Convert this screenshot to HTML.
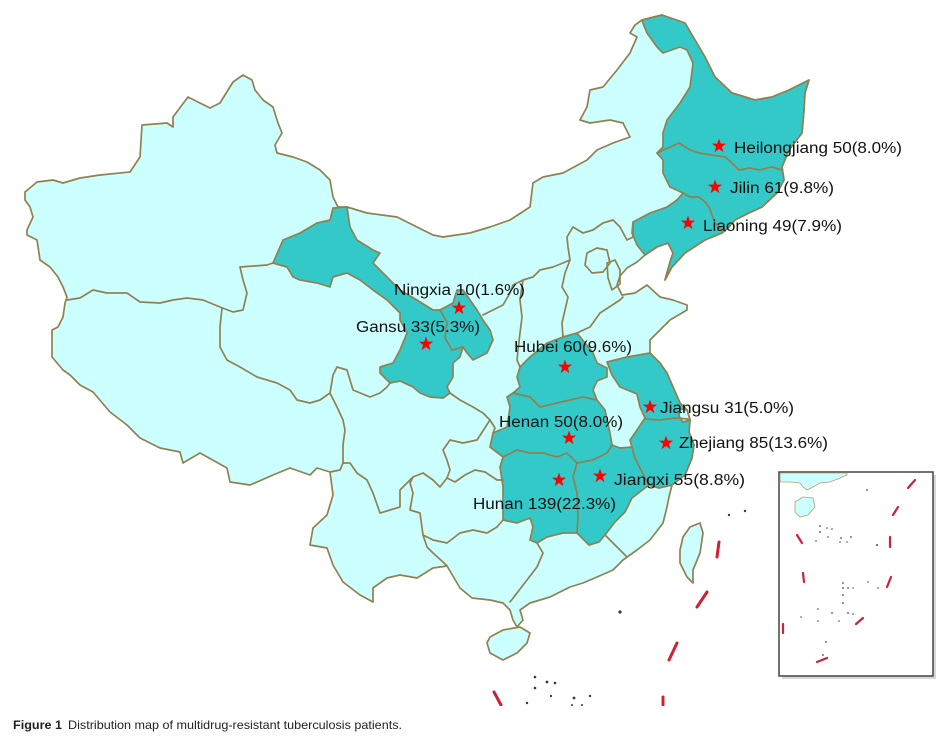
<!DOCTYPE html>
<html>
<head>
<meta charset="utf-8">
<style>
html,body{margin:0;padding:0;background:#fff;}
svg{display:block;}
.lbl{font-family:"Liberation Sans",Arial,sans-serif;font-size:15.5px;fill:#111;}
.cap{font-family:"Liberation Sans",Arial,sans-serif;font-size:12px;fill:#222;}
</style>
</head>
<body>
<svg width="944" height="755" viewBox="0 0 944 755" xmlns="http://www.w3.org/2000/svg">
<defs>
<polygon id="star" points="0,-7.5 1.76,-2.43 7.13,-2.32 2.85,0.93 4.41,6.07 0,3 -4.41,6.07 -2.85,0.93 -7.13,-2.32 -1.76,-2.43" fill="#ff0000"/>
</defs>
<rect width="944" height="755" fill="#fff"/>

<g stroke="#918050" stroke-width="1.7" stroke-linejoin="round" stroke-linecap="round">
<!-- China mainland -->
<path fill="#ccffff" d="M25,192 L37,182 53,180 63,183 80,178 100,175 130,172 140,157 142,125 167,123 173,127 173,117 188,97 200,103 210,108 220,103 233,82 243,75 252,80 255,90 263,100 273,107 278,123 282,133 275,145 277,153 293,157 307,162 320,170 330,180 333,197 338,207 347,207 367,213 397,217 417,227 433,235 443,237 470,233 490,227 510,220 530,207 533,183 543,177 563,173 587,160 597,150 613,143 630,137 623,123 610,120 590,123 580,120 587,107 590,90 603,87 617,70 630,53 637,37 630,33 635,25 642,20 662,15 685,23 695,40 705,57 715,77 732,93 755,100 772,97 789,90 809,80 805,93 804,110 802,133 789,150 782,167 784,180 777,193 762,207 749,213 735,220 729,227 722,233 705,240 685,253 672,267 665,280 670,262 673,253 668,243 657,247 645,255 637,262 627,268 620,276 617,285 622,295 635,293 647,285 660,297 673,300 687,305 687,310 670,320 660,330 650,340 650,353 660,363 667,373 673,387 680,403 687,410 690,420 689,432 694,445 692,458 685,475 672,485 669,497 667,507 663,523 650,540 637,550 623,560 613,570 597,577 583,583 570,587 550,597 530,603 520,610 523,620 517,627 513,620 510,610 503,603 490,600 472,598 460,588 447,566 433,568 417,578 400,575 387,578 373,588 373,602 360,595 343,582 333,565 327,548 310,545 313,528 327,515 333,495 330,472 317,468 310,475 290,468 273,475 250,485 230,482 227,468 200,453 183,463 180,452 160,448 140,438 127,425 110,412 93,392 80,385 70,375 63,370 52,357 52,330 58,327 63,317 65,303 67,297 63,287 58,277 50,267 40,260 37,240 27,235 27,230 33,217 30,207 25,200 Z"/>

<!-- Hainan -->
<path fill="#ccffff" d="M490,637 L503,630 520,627 530,633 527,643 517,653 503,660 490,653 487,643 Z"/>
<!-- Taiwan -->
<path fill="#ccffff" d="M690,527 L700,523 703,533 700,553 693,570 693,583 687,577 680,563 680,550 683,537 Z"/>

<!-- NE dark: Heilongjiang, Jilin, Liaoning -->
<path fill="#33c9c9" d="M642,20 L662,15 685,23 695,40 705,57 715,77 732,93 755,100 772,97 789,90 809,80 805,93 804,110 802,133 789,150 782,167 784,180 777,193 762,207 749,213 735,220 729,227 722,233 705,240 685,253 672,267 665,280 670,262 673,253 668,243 657,247 645,255 637,245 632,233 633,222 650,213 667,207 677,200 683,193 670,187 663,173 663,160 657,153 663,147 663,133 667,120 680,103 690,87 693,63 687,50 680,47 663,53 657,47 647,33 643,23 Z"/>

<!-- NW dark: Gansu + Ningxia -->
<path fill="#33c9c9" d="M333,208 L347,207 350,227 357,240 373,250 380,253 373,263 387,277 400,290 417,300 433,310 440,310 453,303 457,290 463,290 470,300 477,310 483,320 490,330 493,340 487,353 473,360 467,353 463,347 460,357 453,363 453,377 447,387 450,393 443,398 430,397 420,393 413,387 400,381 390,383 380,373 380,367 393,363 400,350 407,333 400,320 400,313 387,300 373,290 360,280 347,273 333,277 330,287 317,283 300,280 293,277 287,267 273,263 283,240 300,233 317,223 330,220 Z"/>

<!-- Central dark: Henan, Hubei, Hunan, Jiangxi -->
<path fill="#33c9c9" d="M563,337 L577,333 585,343 593,353 597,363 607,368 607,377 597,381 593,390 597,400 605,410 610,433 612,445 620,448 632,447 635,458 642,472 649,485 645,488 632,498 625,512 615,522 605,535 599,542 589,545 582,538 577,533 563,533 547,537 537,543 530,540 533,527 530,518 517,523 503,520 503,487 500,467 503,457 490,447 493,433 507,427 510,407 507,397 513,393 520,387 517,377 520,367 530,357 547,343 Z"/>

<!-- East dark: Jiangsu + Zhejiang -->
<path fill="#33c9c9" d="M607,362 L627,357 650,353 660,363 667,373 673,387 680,403 687,410 690,420 689,432 694,445 692,458 685,475 672,485 659,488 649,485 642,472 635,458 632,447 630,440 637,430 645,418 640,407 637,394 620,387 612,375 Z"/>
<!-- Shanghai -->
<path fill="#ccffff" d="M680,409 L687,410 690,420 683,422 679,416 Z"/>

<g fill="none">
<!-- NE internal -->
<polyline points="657,153 668,148 679,143 690,150 699,153 712,155 725,157 732,163 739,170 750,168 759,170 772,167 782,170"/>
<polyline points="683,193 690,197 699,197 705,202 709,207 712,215 715,223 720,228 725,231"/>
<!-- Ningxia/Gansu -->
<polyline points="440,310 447,322 445,338 452,350 463,347"/>
<!-- Central internal -->
<polyline points="513,393 530,397 540,407 557,403 570,400 583,397 597,400"/>
<polyline points="490,447 503,457 517,450 530,453 543,453 557,457 567,453 577,463 593,460 607,453 612,445"/>
<polyline points="577,463 573,477 577,493 578,517 577,533"/>
<!-- Jiangsu/Zhejiang -->
<polyline points="645,419 660,420 675,418 688,419"/>
<!-- Xinjiang / Tibet / Qinghai -->
<polyline points="67,300 80,298 93,290 107,293 127,293 140,302 160,303 173,300 187,298 203,300 220,307 233,312 243,310 247,293 243,280 240,267 267,265 273,263"/>
<polyline points="222,308 220,327 220,347 227,360 240,367 257,377 277,383 290,390 297,400 310,403 320,400 330,393 333,375 337,367 347,370 350,380 353,390 370,397 380,393 387,387 390,383"/>
<polyline points="330,393 337,407 343,420 345,430 343,445 343,463 340,470 330,472"/>
<!-- Sichuan / Yunnan / Guizhou / Chongqing -->
<polyline points="343,463 350,463 357,473 367,480 373,493 380,513 390,510 400,507 400,490 407,483 413,477 423,473 433,480 440,487 447,478"/>
<polyline points="413,477 410,483 413,493 410,510 420,513 423,535 433,540 447,543 460,533 473,530 487,533 497,527 503,520"/>
<polyline points="423,535 427,547 433,553 443,562 447,566"/>
<polyline points="450,393 460,400 473,407 483,413 490,420 495,428 493,433"/>
<polyline points="490,420 477,440 463,443 450,440 443,450 447,460 450,470 447,478 455,482 465,475 475,470 485,472 497,480 503,480"/>
<!-- Guangxi/Guangdong, Guangdong/Fujian -->
<polyline points="537,543 543,553 537,567 527,580 517,593 510,602"/>
<polyline points="605,535 615,545 627,557"/>
<!-- North: Shaanxi, Shanxi, Hebei, IM -->
<polyline points="483,315 493,310 503,305 510,293 513,285 523,280 533,277 540,270 553,267 563,263 570,260 568,247 567,237 573,227 583,233 593,230 603,223 613,220 620,227 627,240 633,237 633,225"/>
<polyline points="523,280 520,300 522,317 520,333 518,350 517,360 520,367"/>
<polyline points="570,260 565,273 562,287 568,297 565,310 562,323 563,337"/>
<polyline points="577,333 590,327 600,313 620,300 623,297"/>
<!-- Beijing / Tianjin -->
<path d="M587,253 L597,248 607,250 610,263 603,272 592,273 585,265 Z"/>
<path d="M607,263 L615,260 620,270 620,284 612,290 608,278 Z"/>
</g>
</g>

<!-- Main map dashes -->
<g stroke="#cc2233" stroke-width="3" stroke-linecap="round" fill="none">
<line x1="719" y1="542" x2="717" y2="557"/>
<line x1="707" y1="592" x2="697" y2="607"/>
<line x1="677" y1="643" x2="669" y2="660"/>
<line x1="663" y1="697" x2="663" y2="705"/>
<line x1="494" y1="692" x2="501" y2="705"/>
</g>
<g fill="#333366">
<circle cx="620" cy="612" r="1.6"/>
<circle cx="729" cy="515" r="1.2"/>
<circle cx="745" cy="511" r="1.2"/>
<circle cx="535" cy="677" r="1.3"/>
<circle cx="547" cy="682" r="1.4"/>
<circle cx="555" cy="683" r="1.3"/>
<circle cx="535" cy="688" r="1.3"/>
<circle cx="551" cy="696" r="1.1"/>
<circle cx="574" cy="698" r="1.4"/>
<circle cx="590" cy="696" r="1.2"/>
<circle cx="527" cy="703" r="1.2"/>
<circle cx="572" cy="705" r="1"/>
<circle cx="582" cy="705" r="1"/>
</g>
<!-- white cut below map -->
<rect x="0" y="706" width="944" height="12" fill="#fff"/>

<!-- Inset -->
<rect x="782" y="475" width="154" height="204" fill="#c8c8c8" opacity="0.7"/>
<rect x="779" y="472" width="154" height="204" fill="#fff" stroke="#444" stroke-width="1.5"/>
<path d="M780,473 L847,473 847,475 840,478 830,482 820,483 813,487 807,490 803,487 800,483 790,482 780,482 Z" fill="#ccffff" stroke="#b0a070" stroke-width="0.8"/>
<path d="M795,502 L803,497 813,498 815,507 808,515 800,517 795,512 Z" fill="#ccffff" stroke="#b0a070" stroke-width="0.8"/>
<g stroke="#cc2233" stroke-width="2.2" stroke-linecap="round" fill="none">
<line x1="908" y1="488" x2="915" y2="480"/>
<line x1="893" y1="515" x2="898" y2="507"/>
<line x1="890" y1="537" x2="890" y2="547"/>
<line x1="887" y1="587" x2="891" y2="577"/>
<line x1="856" y1="624" x2="863" y2="618"/>
<line x1="817" y1="662" x2="827" y2="658"/>
<line x1="783" y1="624" x2="783" y2="633"/>
<line x1="803" y1="573" x2="804" y2="582"/>
<line x1="797" y1="535" x2="802" y2="543"/>
</g>
<g fill="#444477">
<circle cx="867" cy="490" r="0.9"/><circle cx="820" cy="526" r="0.9"/><circle cx="827" cy="528" r="0.8"/>
<circle cx="832" cy="529" r="0.8"/><circle cx="820" cy="532" r="0.9"/><circle cx="816" cy="541" r="0.8"/>
<circle cx="828" cy="537" r="0.8"/><circle cx="841" cy="538" r="0.9"/><circle cx="851" cy="537" r="0.9"/>
<circle cx="847" cy="542" r="0.8"/><circle cx="840" cy="542" r="0.8"/><circle cx="877" cy="545" r="1"/>
<circle cx="843" cy="583" r="0.9"/><circle cx="843" cy="588" r="0.9"/><circle cx="848" cy="588" r="0.9"/>
<circle cx="853" cy="588" r="0.7"/><circle cx="843" cy="595" r="0.9"/><circle cx="843" cy="603" r="0.9"/>
<circle cx="868" cy="582" r="0.8"/><circle cx="878" cy="588" r="0.8"/><circle cx="818" cy="609" r="0.8"/>
<circle cx="832" cy="613" r="0.9"/><circle cx="848" cy="613" r="0.9"/><circle cx="853" cy="614" r="0.8"/>
<circle cx="801" cy="617" r="0.8"/><circle cx="818" cy="621" r="0.8"/><circle cx="839" cy="621" r="0.8"/>
<circle cx="826" cy="642" r="0.9"/><circle cx="823" cy="655" r="0.9"/>
</g>

<!-- Stars -->
<use href="#star" x="719" y="146"/>
<use href="#star" x="715" y="187"/>
<use href="#star" x="688" y="223"/>
<use href="#star" x="459" y="308"/>
<use href="#star" x="426" y="344"/>
<use href="#star" x="565" y="367"/>
<use href="#star" x="569" y="438"/>
<use href="#star" x="559" y="480"/>
<use href="#star" x="600" y="476"/>
<use href="#star" x="650" y="407"/>
<use href="#star" x="666" y="443"/>

<!-- Labels -->
<text class="lbl" x="734" y="153" textLength="168" lengthAdjust="spacingAndGlyphs">Heilongjiang 50(8.0%)</text>
<text class="lbl" x="730" y="193" textLength="104" lengthAdjust="spacingAndGlyphs">Jilin 61(9.8%)</text>
<text class="lbl" x="703" y="231" textLength="139" lengthAdjust="spacingAndGlyphs">Liaoning 49(7.9%)</text>
<text class="lbl" x="394" y="295" textLength="131" lengthAdjust="spacingAndGlyphs">Ningxia 10(1.6%)</text>
<text class="lbl" x="356" y="332" textLength="124" lengthAdjust="spacingAndGlyphs">Gansu 33(5.3%)</text>
<text class="lbl" x="514" y="352" textLength="118" lengthAdjust="spacingAndGlyphs">Hubei 60(9.6%)</text>
<text class="lbl" x="499" y="427" textLength="124" lengthAdjust="spacingAndGlyphs">Henan 50(8.0%)</text>
<text class="lbl" x="473" y="509" textLength="143" lengthAdjust="spacingAndGlyphs">Hunan 139(22.3%)</text>
<text class="lbl" x="614" y="485" textLength="131" lengthAdjust="spacingAndGlyphs">Jiangxi 55(8.8%)</text>
<text class="lbl" x="660" y="413" textLength="134" lengthAdjust="spacingAndGlyphs">Jiangsu 31(5.0%)</text>
<text class="lbl" x="679" y="448" textLength="149" lengthAdjust="spacingAndGlyphs">Zhejiang 85(13.6%)</text>

<!-- Caption -->
<text class="cap" x="13" y="729" font-weight="bold" textLength="49" lengthAdjust="spacingAndGlyphs">Figure 1</text>
<text class="cap" x="68" y="729" textLength="334" lengthAdjust="spacingAndGlyphs">Distribution map of multidrug-resistant tuberculosis patients.</text>
</svg>
</body>
</html>
